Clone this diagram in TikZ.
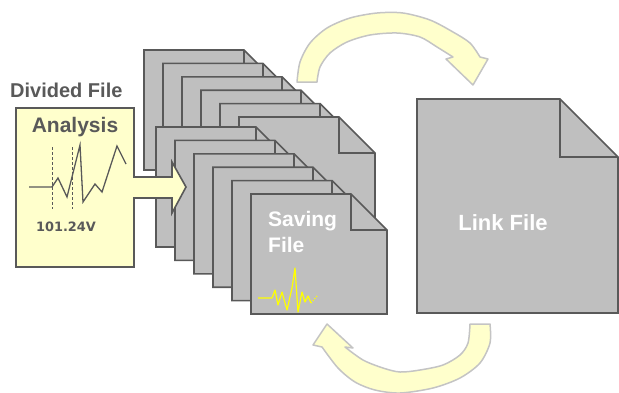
\documentclass[tikz,border=0pt]{standalone}
\usepackage{fontspec}
\setmainfont{Liberation Sans}
\newfontfamily\readoutfont{DejaVu Sans}

\definecolor{docgray}{HTML}{BFBFBF}
\definecolor{edgegray}{HTML}{595959}
\definecolor{paleyellow}{HTML}{FFFFCC}
\definecolor{bendedge}{HTML}{C4C4C4}
\definecolor{signal}{HTML}{FFFF00}

\tikzset{
  docstyle/.style={fill=docgray, draw=edgegray, line width=1.6pt, line join=miter},
  boxstyle/.style={fill=paleyellow, draw=edgegray, line width=1.6pt, line join=miter},
  bendarrow/.style={fill=paleyellow, draw=bendedge, line width=1.5pt, line join=round},
  trace/.style={draw=edgegray, line width=1.3pt, line join=miter},
  marker/.style={draw=edgegray, line width=0.8pt, dash pattern=on 3pt off 2pt},
  label/.style={font=\bfseries, text=edgegray, inner sep=0pt},
  whitelabel/.style={font=\bfseries, text=white, inner sep=0pt},
}

% a sheet with a folded top-right corner: left, top, width, height, fold
\newcommand\pagedoc[5]{%
  \filldraw[docstyle] (#1,#2) -- ++(#3-#5,0) -- ++(#5,#5) -- ++(0,#4-#5) -- ++(-#3,0) -- cycle;
  \draw[docstyle, fill=none] (#1+#3-#5,#2) -- ++(0,#5) -- ++(#5,0);
}

\begin{document}
\begin{tikzpicture}[x=1pt, y=-1pt]
\useasboundingbox (0,0) rectangle (619,392);

% curved arrow over the top
\filldraw[bendarrow]
  plot[smooth] coordinates {(297,82) (300,62) (310,43) (327,28) (350,18) (377,13) (403,13) (430,20) (453,32) (470,43) (480,57)}
  -- (488,59) -- (473,85) -- (446,59) -- (453,57)
  -- plot[smooth] coordinates {(453,57) (437,47) (420,37) (397,33) (370,35) (347,42) (330,53) (320,67) (317,82)}
  -- cycle;

% curved arrow underneath
\filldraw[bendarrow]
  plot[smooth] coordinates {(490,324) (490,343) (480,363) (460,378) (433,388) (400,393) (375,390) (355,382) (338,368) (322,347)}
  -- (313,345) -- (327,324) -- (353,348) -- (345,347)
  -- plot[smooth] coordinates {(345,347) (363,360) (383,368) (400,372) (420,370) (443,365) (460,355) (468,343) (470,324)}
  -- cycle;

% rear stack of divided files
\foreach \i in {0,...,5} {\pagedoc{144+19*\i}{50+13.4*\i}{136}{120}{36}}

% front stack of divided files
\foreach \i in {0,...,5} {\pagedoc{156+19*\i}{127+13.4*\i}{136}{120}{36}}

% link file
\pagedoc{417}{99}{201}{214}{58}

% analysis box with its arrow
\filldraw[boxstyle] (16,108) -- (134,108) -- (134,177) -- (172,177) -- (172,162)
  -- (186,187) -- (172,213) -- (172,198) -- (134,198) -- (134,267) -- (16,267) -- cycle;

% measured trace and cursor markers
\draw[marker] (52,147) -- (52,209);
\draw[marker] (72,147) -- (72,209);
\draw[trace] (29,187) -- (52,187) -- (58,178) -- (67,197) -- (80,145) -- (83,202)
  -- (95,184) -- (102,192) -- (117,146) -- (126,164);

% signal on the saving file
\draw[signal, line width=1.2pt, line join=round]
  (258,298) -- (272,298) -- (275,290) -- (278,305) -- (282,292) -- (287,310) -- (292,288)
  -- (295,268) -- (298,312) -- (302,292) -- (305,302) -- (308,296) -- (311,303);
\draw[signal, line width=1.2pt, dash pattern=on 1.2pt off 1.5pt] (311,303) -- (317,296);

% texts
\node[label, anchor=base west, font=\bfseries\fontsize{20}{24}\selectfont] (divided) at (10,97) {Divided File};
\node[label, anchor=base, font=\bfseries\fontsize{21}{25}\selectfont] (analysis) at (75,132) {Analysis};
\node[label, anchor=base, font=\readoutfont\bfseries\fontsize{12.9}{15}\selectfont] (readout) at (66,231) {101.24V};
\node[whitelabel, anchor=north west, align=left, font=\bfseries\fontsize{21}{26}\selectfont] (saving) at (268,211) {Saving\\File};
\node[whitelabel, anchor=base, font=\bfseries\fontsize{22}{26}\selectfont] (link) at (503,230) {Link File};
\end{tikzpicture}
\end{document}
